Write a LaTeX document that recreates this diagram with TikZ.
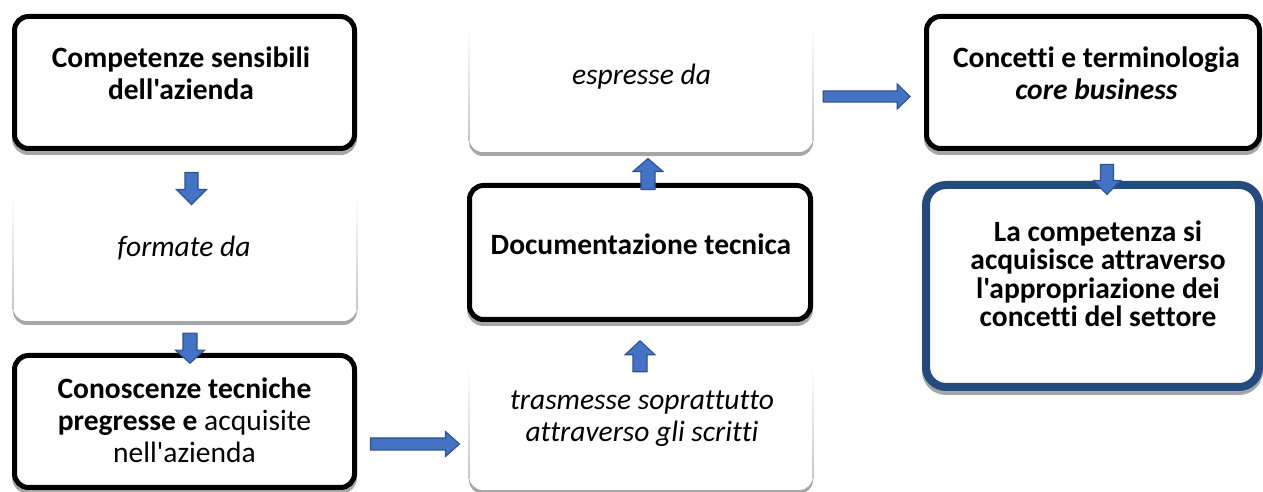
\documentclass[tikz,border=0pt]{standalone}
\usepackage{fontspec}
\setmainfont{Carlito}[Ligatures={TeXOff,NoCommon}]
\usetikzlibrary{calc}
\definecolor{arrfill}{HTML}{4472C4}
\definecolor{arrline}{HTML}{2F528F}
\definecolor{darkblue}{RGB}{36,74,126}
\definecolor{shadowgray}{HTML}{A6A6A6}
\tikzset{
  boldbox/.style={draw=black, line width=5pt, fill=white, rounded corners=14pt, inner sep=0pt,
    preaction={draw=shadowgray, fill=shadowgray, transform canvas={yshift=-4pt}}},
  bluebox/.style={draw=darkblue, line width=8pt, fill=white, rounded corners=20pt, inner sep=0pt,
    preaction={draw=shadowgray, fill=shadowgray, transform canvas={yshift=-4pt}}},
  softbox/.style={fill=white, rounded corners=14pt, inner sep=0pt,
    preaction={fill=shadowgray, transform canvas={yshift=-4pt}}},
  txt/.style={font=\fontsize{29.5}{32}\selectfont, align=center, anchor=base, inner sep=0pt},
  barrow/.style={fill=arrfill, draw=arrline, line width=1.1pt, line join=miter},
}
% vertical block arrow: #1 start, #2 sign (+1 up, -1 down), #3 length, #4 head length, #5 shaft half, #6 head half
\newcommand\arrv[6]{\filldraw[barrow] (#1) ++(-#5,0) -- ++(0,{(#2)*(#3-#4)}) -- ++({#5-#6},0) -- ++(#6,{(#2)*#4}) -- ++(#6,{-1*(#2)*#4}) -- ++({#5-#6},0) -- ++(0,{-1*(#2)*(#3-#4)}) -- cycle;}
% rightward block arrow: #1 start, #2 length, #3 head length, #4 shaft half, #5 head half
\newcommand\arrh[5]{\filldraw[barrow] (#1) ++(0,-#4) -- ++({#2-#3},0) -- ++(0,{#4-#5}) -- ++(#3,#5) -- ++(-#3,#5) -- ++(0,{#4-#5}) -- ++({-1*(#2-#3)},0) -- cycle;}
% faint side lines of the soft boxes
\newcommand\softsides[1]{%
  \shade[top color=white, bottom color=gray!45] ($(#1.north west)+(-0.6,-14)$) rectangle ($(#1.south west)+(0.6,12)$);
  \shade[top color=white, bottom color=gray!45] ($(#1.north east)+(-0.6,-14)$) rectangle ($(#1.south east)+(0.6,12)$);}
\begin{document}
\begin{tikzpicture}[x=1pt,y=1pt]
\useasboundingbox (0,0) rectangle (1263,492);
% soft boxes
\node[softbox, minimum width=344pt, minimum height=138pt] (B) at (185,240) {};
\node[softbox, minimum width=344pt, minimum height=138pt] (F) at (641,409) {};
\node[softbox, minimum width=344pt, minimum height=137pt] (D) at (641,70.5) {};
\softsides{B}\softsides{F}\softsides{D}
% bold boxes
\node[boldbox, minimum width=340pt, minimum height=132pt] (A) at (184.5,409.5) {};
\node[boldbox, minimum width=341pt, minimum height=134pt] (E) at (640,239.5) {};
\node[boldbox, minimum width=340pt, minimum height=132pt] (C) at (184.5,70.5) {};
\node[boldbox, minimum width=333pt, minimum height=132pt] (G) at (1093,409.5) {};
\node[bluebox, minimum width=333pt, minimum height=202pt] (H) at (1092.5,206) {};
% texts (anchor = baseline of the last line)
\node[txt, font=\fontsize{29.5}{32}\selectfont\bfseries] (At) at (181,392) {Competenze sensibili\\dell'azienda};
\node[txt, font=\fontsize{29.5}{32}\selectfont\itshape] (Bt) at (184,235) {formate da};
\node[txt] (Ct) at (184.5,29) {\textbf{Conoscenze tecniche}\\\textbf{pregresse e} acquisite\\nell'azienda};
\node[txt, font=\fontsize{29.5}{32}\selectfont\itshape] (Dt) at (642,50) {trasmesse soprattutto\\attraverso gli scritti};
\node[txt, font=\fontsize{29.5}{32}\selectfont\bfseries] (Et) at (641,237) {Documentazione tecnica};
\node[txt, font=\fontsize{29.5}{32}\selectfont\itshape] (Ft) at (641.5,407) {espresse da};
\node[txt, font=\fontsize{29.5}{32}\selectfont\bfseries] (Gt) at (1096.5,392) {Concetti e terminologia\\\textit{core business}};
\node[txt, font=\fontsize{29.5}{28.5}\selectfont\bfseries] (Ht) at (1098,165) {La competenza si\\acquisisce attraverso\\l'appropriazione dei\\concetti del settore};
% connectors
\arrv{$(A.south)+(7,-21.5)$}{-1}{32}{15}{6.5}{15}
\arrv{$(B.south)+(5,-12)$}{-1}{30}{13}{7}{14.5}
\arrh{$(C.east)+(13.5,-22.5)$}{89}{14}{6}{12.5}
\arrv{$(D.north)+(-1,-19)$}{1}{31}{14}{7}{15}
\arrv{$(E.north)+(8,-6.5)$}{1}{31}{13}{7}{15}
\arrh{$(F.east)+(10,-13.5)$}{87}{13}{5.5}{12.5}
\arrv{$(G.south)+(14,-13.5)$}{-1}{30}{14}{6.5}{13.5}
\end{tikzpicture}
\end{document}
